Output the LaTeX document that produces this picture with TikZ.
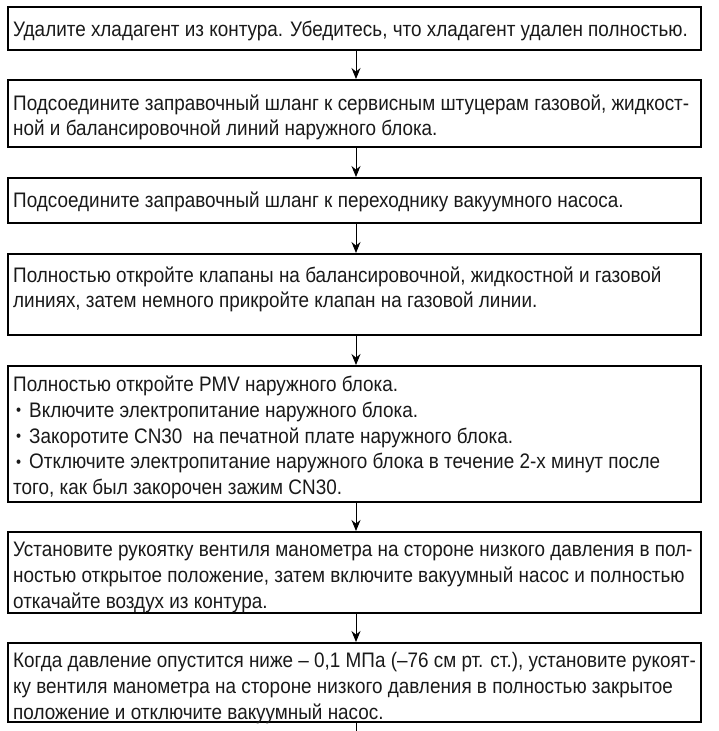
\documentclass[tikz,border=0pt]{standalone}
\usepackage{fontspec}
\setmainfont{Liberation Sans}[FakeStretch=0.9]
\usetikzlibrary{arrows.meta}
\newcommand{\boxtext}[1]{\parbox[t]{700pt}{\raggedright\fontsize{21}{25.8}\selectfont #1}}
\newcommand{\bul}{\hspace*{3pt}\raisebox{1.8pt}{\fontsize{16}{1}\selectfont •}\hspace{8pt}}
\tikzset{
  stepbox/.style={draw=black, line width=2pt, inner sep=0pt, minimum width=693pt, rectangle},
  steptext/.style={anchor=base west, inner sep=0pt, text=black!90},
  arr/.style={draw=black, line width=1pt, -{Stealth[length=11pt, width=9pt]}},
}
\begin{document}
\begin{tikzpicture}[x=1pt, y=-1pt]
\useasboundingbox (0,0) rectangle (718,731);
% boxes
\node[stepbox, minimum height=43pt] (b1) at (354.5,28.5) {};
\node[stepbox, minimum height=67pt] (b2) at (354.5,113.5) {};
\node[stepbox, minimum height=45pt] (b3) at (354.5,200.5) {};
\node[stepbox, minimum height=81pt] (b4) at (354.5,294.5) {};
\node[stepbox, minimum height=136pt] (b5) at (354.5,434) {};
\node[stepbox, minimum height=81pt] (b6) at (354.5,572.5) {};
\node[stepbox, minimum height=79pt] (b7) at (354.5,682.5) {};
\coordinate (end) at (356,731);
% texts
\node[steptext] (t1) at (13,36) {\boxtext{Удалите хладагент из контура. Убедитесь, что хладагент удален полностью.}};
\node[steptext] (t2) at (13,110) {\boxtext{Подсоедините заправочный шланг к сервисным штуцерам газовой, жидкост-\\ной и балансировочной линий наружного блока.}};
\node[steptext] (t3) at (13,207) {\boxtext{Подсоедините заправочный шланг к переходнику вакуумного насоса.}};
\node[steptext] (t4) at (13,282) {\boxtext{Полностью откройте клапаны на балансировочной, жидкостной и газовой\\линиях, затем немного прикройте клапан на газовой линии.}};
\node[steptext] (t5) at (13,391.5) {\boxtext{Полностью откройте PMV наружного блока.\\\bul Включите электропитание наружного блока.\\\bul Закоротите CN30\ \ на печатной плате наружного блока.\\\bul Отключите электропитание наружного блока в течение 2-х минут после\\того, как был закорочен зажим CN30.}};
\node[steptext] (t6) at (13,556.5) {\boxtext{Установите рукоятку вентиля манометра на стороне низкого давления в пол-\\ностью открытое положение, затем включите вакуумный насос и полностью\\откачайте воздух из контура.}};
\node[steptext] (t7) at (13,667.5) {\boxtext{Когда давление опустится ниже – 0,1 МПа (–76 см рт. ст.), установите рукоят-\\ку вентиля манометра на стороне низкого давления в полностью закрытое\\положение и отключите вакуумный насос.}};
% connectors
\draw[arr] ([xshift=1.5pt]b1.south) -- ([xshift=1.5pt]b2.north);
\draw[arr] ([xshift=1.5pt]b2.south) -- ([xshift=1.5pt]b3.north);
\draw[arr] ([xshift=1.5pt]b3.south) -- ([xshift=1.5pt]b4.north);
\draw[arr] ([xshift=1.5pt]b4.south) -- ([xshift=1.5pt]b5.north);
\draw[arr] ([xshift=1.5pt]b5.south) -- ([xshift=1.5pt]b6.north);
\draw[arr] ([xshift=1.5pt]b6.south) -- ([xshift=1.5pt]b7.north);
\draw[draw=black, line width=1pt] ([xshift=1.5pt]b7.south) -- (end);
\end{tikzpicture}
\end{document}
